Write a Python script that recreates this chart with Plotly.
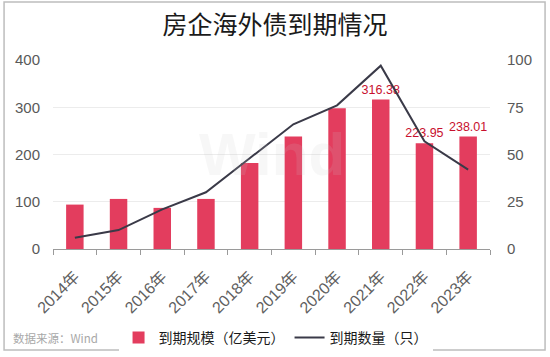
import plotly.graph_objects as go

years = ["2014年", "2015年", "2016年", "2017年", "2018年", "2019年", "2020年", "2021年", "2022年", "2023年"]
scale = [94, 106, 87, 106, 182, 238, 298, 316.38, 223.95, 238.01]
count = [6, 10, 21, 30, 48, 66, 76, 97, 57, 42]
labels = ["", "", "", "", "", "", "", "316.38", "223.95", "238.01"]

font = "Noto Sans CJK SC, Noto Sans, sans-serif"
numfont = "Liberation Sans, Noto Sans CJK SC, sans-serif"
fig = go.Figure()
fig.add_trace(go.Bar(
    x=years, y=scale, name="到期规模（亿美元）",
    marker=dict(color="#E33D5E", line=dict(width=0)),
    text=labels, textposition="outside", cliponaxis=False, constraintext="none",
    textfont=dict(color="#C8102E", size=12.5, family=numfont),
    yaxis="y",
))
fig.add_trace(go.Scatter(
    x=years, y=count, name="到期数量（只）", mode="lines",
    line=dict(color="#3A3A48", width=2),
    yaxis="y2",
))
fig.update_layout(
    width=550, height=357,
    margin=dict(l=53, r=60, t=60, b=108, autoexpand=False),
    paper_bgcolor="white", plot_bgcolor="white",
    font=dict(family=font, color="#595959"),
    title=dict(text="房企海外债到期情况", x=0.5, xanchor="center", y=0.93, yanchor="middle",
               font=dict(size=25, color="#1a1a1a", family=font)),
    bargap=0.6,
    showlegend=True,
    legend=dict(orientation="h", x=0.15, xanchor="left", y=-0.47, yanchor="middle",
                font=dict(size=14, color="#1a1a1a", family=font), itemwidth=30,
                traceorder="normal", tracegroupgap=0),
    xaxis=dict(showgrid=False, showline=True, linecolor="#9a9a9a", linewidth=1,
               ticks="outside", tickcolor="#9a9a9a", ticklen=5, tickson="boundaries",
               tickangle=-45, automargin=False, ticklabelstandoff=11,
               tickfont=dict(size=16, color="#606060", family=numfont)),
    yaxis=dict(range=[0, 400], tickvals=[0, 100, 200, 300, 400], showgrid=True,
               gridcolor="#ececec", zeroline=False, showline=False, automargin=False,
               tickfont=dict(size=15, color="#595959", family=numfont), ticklabelstandoff=12),
    yaxis2=dict(range=[0, 100], tickvals=[0, 25, 50, 75, 100], overlaying="y", side="right",
                showgrid=False, zeroline=False, showline=False, automargin=False,
                tickfont=dict(size=15, color="#595959", family=numfont), ticklabelstandoff=16),
    shapes=[dict(type="rect", xref="paper", yref="paper", x0=-0.112, x1=1.126, y0=-0.534, y1=1.307,
                 line=dict(color="#bdbdbd", width=1.5))],
    annotations=[
        dict(text="数据来源：Wind", xref="paper", yref="paper", x=-0.095, y=-0.47,
             xanchor="left", yanchor="middle", showarrow=False,
             font=dict(size=11.5, color="#a8a8a8", family=font)),
        dict(text="<b>Wind</b>", xref="paper", yref="paper", x=0.5, y=0.5,
             xanchor="center", yanchor="middle", showarrow=False,
             font=dict(size=60, color="rgba(200,200,200,0.15)", family="Liberation Sans")),
    ],
)
fig.write_html("out.html", config={"displayModeBar": False},
               post_script="document.body.style.margin='0';")
